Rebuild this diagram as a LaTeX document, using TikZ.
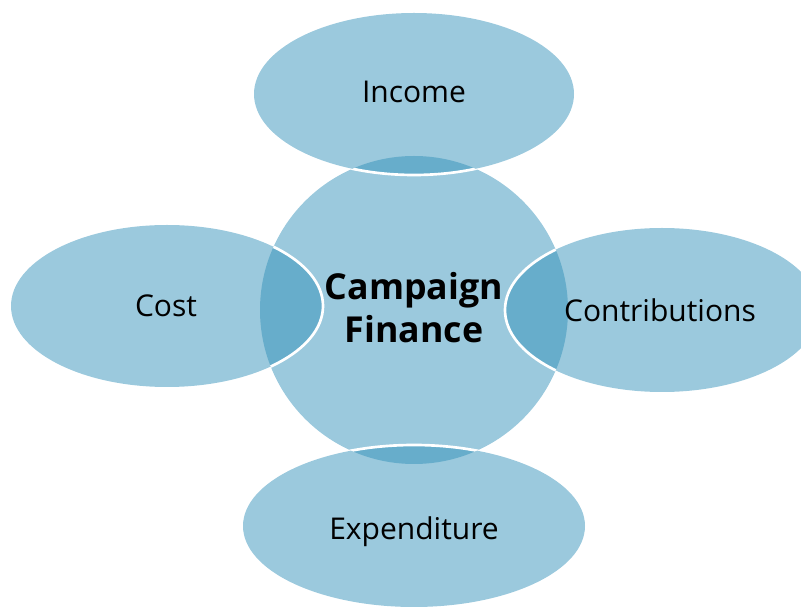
\documentclass[tikz,border=0pt]{standalone}
\usepackage{fontspec}
\setmainfont{Open Sans}
\definecolor{vennlight}{RGB}{155,201,221}
\definecolor{venndark}{RGB}{103,173,203}
\tikzset{every picture/.style={line width=0.75pt}}
\tikzset{
	leaflabel/.style={anchor=base, font=\fontsize{22.5}{27}\selectfont},
	hublabel/.style={anchor=base, align=center, font=\fontsize{26.8}{32.25}\selectfont\bfseries}
}

\begin{document}
\begin{tikzpicture}[x=0.75pt,y=0.75pt,yscale=-1,xscale=1]
	\useasboundingbox (0,0) rectangle (801,609);
	\clip (0,0) rectangle (801,609);

	%Shape: Circle [hub]
	\fill [vennlight] (414,310) circle (154);

	%Shape: Ellipse [income]
	\fill [vennlight] (414,94) ellipse (160 and 81);
	\begin{scope}
		\clip (414,310) circle (154);
		\fill [venndark] (414,94) ellipse (160 and 81);
		\draw [white, line width=2pt] (414,94) ellipse (160 and 81);
	\end{scope}

	%Shape: Ellipse [cost]
	\fill [vennlight] (167,306) ellipse (156 and 81);
	\begin{scope}
		\clip (414,310) circle (154);
		\fill [venndark] (167,306) ellipse (156 and 81);
		\draw [white, line width=2pt] (167,306) ellipse (156 and 81);
	\end{scope}

	%Shape: Ellipse [contributions]
	\fill [vennlight] (662,310) ellipse (157 and 82);
	\begin{scope}
		\clip (414,310) circle (154);
		\fill [venndark] (662,310) ellipse (157 and 82);
		\draw [white, line width=2pt] (662,310) ellipse (157 and 82);
	\end{scope}

	%Shape: Ellipse [expenditure]
	\fill [vennlight] (414,526) ellipse (171 and 81);
	\begin{scope}
		\clip (414,310) circle (154);
		\fill [venndark] (414,526) ellipse (171 and 81);
		\draw [white, line width=2pt] (414,526) ellipse (171 and 81);
	\end{scope}

	% Text Node
	\node [hublabel] (hub) at (414,343) {Campaign\\Finance};
	% Text Node
	\node [leaflabel] (income) at (414,103) {Income};
	% Text Node
	\node [leaflabel] (cost) at (166,317) {Cost};
	% Text Node
	\node [leaflabel] (contributions) at (660,322) {Contributions};
	% Text Node
	\node [leaflabel] (expenditure) at (414,540) {Expenditure};

\end{tikzpicture}
\end{document}
